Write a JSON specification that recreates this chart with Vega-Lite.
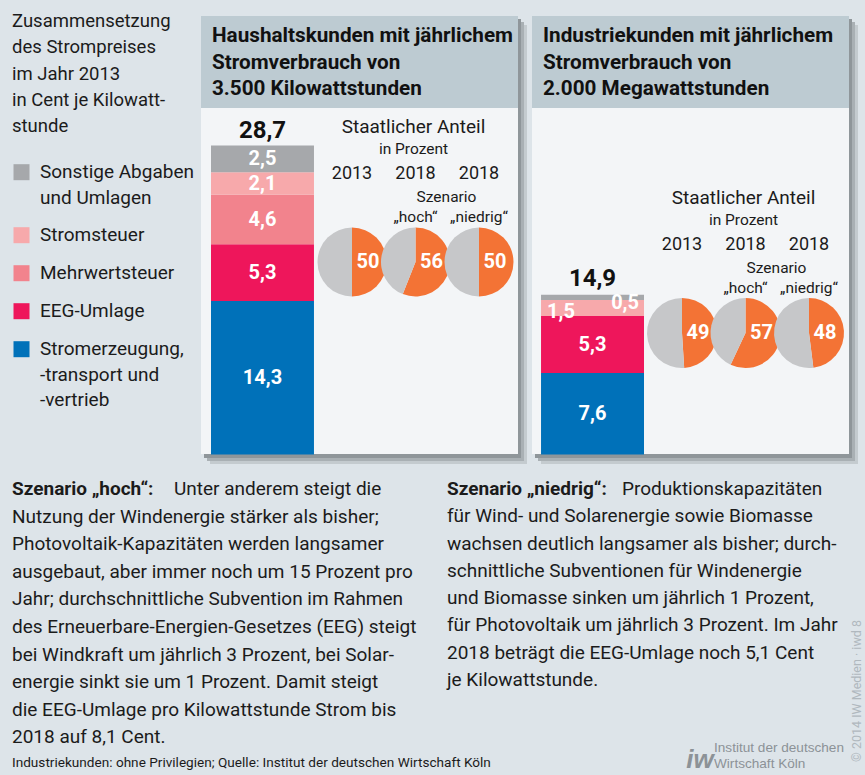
{
"$schema":"https://vega.github.io/schema/vega-lite/v6.json",
"width":865,"height":775,"padding":0,"autosize":{"type":"none"},
"background":"#dde4e9",
"config":{"view":{"stroke":null},"font":"Roboto","text":{"font":"Roboto","color":"#1b1b1b"},"style":{"guide-label":{"lineHeight":25.5}}},
"datasets":{
 "panels":[
  {"gruppe":"Haushalt","titel":["Haushaltskunden mit jährlichem","Stromverbrauch von","3.500 Kilowattstunden"]},
  {"gruppe":"Industrie","titel":["Industriekunden mit jährlichem","Stromverbrauch von","2.000 Megawattstunden"]}
 ],
 "komponenten":[
  {"gruppe":"Haushalt","komponente":"Stromerzeugung, -transport und -vertrieb","ebene":1,"wert":14.3,"label":"14,3"},
  {"gruppe":"Haushalt","komponente":"EEG-Umlage","ebene":2,"wert":5.3,"label":"5,3"},
  {"gruppe":"Haushalt","komponente":"Mehrwertsteuer","ebene":3,"wert":4.6,"label":"4,6"},
  {"gruppe":"Haushalt","komponente":"Stromsteuer","ebene":4,"wert":2.1,"label":"2,1"},
  {"gruppe":"Haushalt","komponente":"Sonstige Abgaben und Umlagen","ebene":5,"wert":2.5,"label":"2,5"},
  {"gruppe":"Industrie","komponente":"Stromerzeugung, -transport und -vertrieb","ebene":1,"wert":7.6,"label":"7,6"},
  {"gruppe":"Industrie","komponente":"EEG-Umlage","ebene":2,"wert":5.3,"label":"5,3"},
  {"gruppe":"Industrie","komponente":"Stromsteuer","ebene":4,"wert":1.5,"label":"1,5"},
  {"gruppe":"Industrie","komponente":"Sonstige Abgaben und Umlagen","ebene":5,"wert":0.5,"label":"0,5"}
 ],
 "summen":[
  {"gruppe":"Haushalt","summe":28.7,"label":"28,7"},
  {"gruppe":"Industrie","summe":14.9,"label":"14,9"}
 ],
 "anteil":[
  {"gruppe":"Haushalt","jahr":"2013","jahrText":"2013","szenario":"","teil":"Staat","prozent":50},
  {"gruppe":"Haushalt","jahr":"2013","jahrText":"2013","szenario":"","teil":"Rest","prozent":50},
  {"gruppe":"Haushalt","jahr":"2018 hoch","jahrText":"2018","szenario":"„hoch“","teil":"Staat","prozent":56},
  {"gruppe":"Haushalt","jahr":"2018 hoch","jahrText":"2018","szenario":"„hoch“","teil":"Rest","prozent":44},
  {"gruppe":"Haushalt","jahr":"2018 niedrig","jahrText":"2018","szenario":"„niedrig“","teil":"Staat","prozent":50},
  {"gruppe":"Haushalt","jahr":"2018 niedrig","jahrText":"2018","szenario":"„niedrig“","teil":"Rest","prozent":50},
  {"gruppe":"Industrie","jahr":"2013","jahrText":"2013","szenario":"","teil":"Staat","prozent":49},
  {"gruppe":"Industrie","jahr":"2013","jahrText":"2013","szenario":"","teil":"Rest","prozent":51},
  {"gruppe":"Industrie","jahr":"2018 hoch","jahrText":"2018","szenario":"„hoch“","teil":"Staat","prozent":57},
  {"gruppe":"Industrie","jahr":"2018 hoch","jahrText":"2018","szenario":"„hoch“","teil":"Rest","prozent":43},
  {"gruppe":"Industrie","jahr":"2018 niedrig","jahrText":"2018","szenario":"„niedrig“","teil":"Staat","prozent":48},
  {"gruppe":"Industrie","jahr":"2018 niedrig","jahrText":"2018","szenario":"„niedrig“","teil":"Rest","prozent":52}
 ]
},
"resolve":{"scale":{"x":"independent","y":"independent","color":"independent","theta":"independent"}},
"layer":[
 {
  "data":{"name":"panels"},
  "encoding":{"x":{"field":"gruppe","type":"nominal","axis":null,"scale":{"type":"band","domain":["Haushalt","Industrie"],"range":[201,849],"paddingInner":0.0423,"paddingOuter":0}}},
  "layer":[
   {"mark":{"type":"rect","y":25,"y2":464,"xOffset":9,"fill":"#c4cbcf"}},
   {"mark":{"type":"rect","y":22,"y2":461,"xOffset":6,"fill":"#a9b0b4"}},
   {"mark":{"type":"rect","y":19,"y2":458,"xOffset":3,"fill":"#8f969a"}},
   {"mark":{"type":"rect","y":16,"y2":454,"fill":"#f3f5f7"}},
   {"mark":{"type":"rect","y":16,"y2":108,"fill":"#bdcbd2"}},
   {"mark":{"type":"text","align":"left","baseline":"alphabetic","dx":11,"y":42,"fontSize":20.7,"fontWeight":"bold","lineHeight":26.5,"color":"#111111"},
    "encoding":{"x":{"field":"gruppe","type":"nominal","bandPosition":0,"axis":null,"scale":{"type":"band","domain":["Haushalt","Industrie"],"range":[201,849],"paddingInner":0.0423,"paddingOuter":0}},"text":{"field":"titel"}}}
  ]
 },
 {
  "encoding":{"x":{"field":"gruppe","type":"nominal","axis":null,"scale":{"type":"band","domain":["Haushalt","Industrie"],"range":[211,644],"paddingInner":0.688,"paddingOuter":0}}},
  "layer":[
   {"data":{"name":"komponenten"},
    "transform":[{"stack":"wert","groupby":["gruppe"],"sort":[{"field":"ebene","order":"ascending"}],"as":["y0","y1"]}],
    "mark":{"type":"bar"},
    "encoding":{
     "y":{"field":"y1","type":"quantitative","axis":null,"scale":{"domain":[0,42.36],"range":[454.5,0],"nice":false,"zero":false}},
     "y2":{"field":"y0"},
     "color":{"field":"komponente","type":"nominal",
      "scale":{"domain":["Sonstige Abgaben und Umlagen","Stromsteuer","Mehrwertsteuer","EEG-Umlage","Stromerzeugung, -transport und -vertrieb"],"range":["#a6a8ab","#f7a9ab","#f2838d","#ee165b","#0071b9"]},
      "legend":{"orient":"none","legendX":12,"legendY":12,"padding":0,
       "title":["Zusammensetzung","des Strompreises","im Jahr 2013","in Cent je Kilowatt-","stunde"],
       "titleFont":"Roboto","titleFontSize":18.5,"titleFontWeight":"normal","titleLineHeight":26.3,"titlePadding":27,"titleColor":"#1b1b1b","titleLimit":400,
       "labelFont":"Roboto","labelFontSize":19,"labelColor":"#1b1b1b","labelLimit":400,"labelOffset":9,
       "symbolType":"square","symbolSize":256,"symbolStrokeWidth":0,"symbolOpacity":1,"rowPadding":18,
       "labelExpr":"datum.label == 'Sonstige Abgaben und Umlagen' ? ['Sonstige Abgaben','und Umlagen'] : datum.label == 'Stromerzeugung, -transport und -vertrieb' ? ['Stromerzeugung,','-transport und','-vertrieb'] : datum.label"}
     }
    }
   },
   {"data":{"name":"komponenten"},
    "transform":[{"stack":"wert","groupby":["gruppe"],"sort":[{"field":"ebene","order":"ascending"}],"as":["y0","y1"]},{"calculate":"(datum.y0+datum.y1)/2","as":"mitte"},{"filter":"datum.gruppe == 'Haushalt' || datum.wert >= 2"}],
    "mark":{"type":"text","color":"white","fontWeight":"bold","fontSize":20,"baseline":"middle"},
    "encoding":{"y":{"field":"mitte","type":"quantitative","axis":null,"scale":{"domain":[0,42.36],"range":[454.5,0],"nice":false,"zero":false}},"text":{"field":"label"}}
   },
   {"data":{"name":"komponenten"},
    "transform":[{"stack":"wert","groupby":["gruppe"],"sort":[{"field":"ebene","order":"ascending"}],"as":["y0","y1"]},{"calculate":"(datum.y0+datum.y1)/2","as":"mitte"},{"filter":"datum.gruppe == 'Industrie' && datum.komponente == 'Stromsteuer'"}],
    "mark":{"type":"text","color":"white","fontWeight":"bold","fontSize":20,"baseline":"middle","align":"left","dx":6,"dy":4},
    "encoding":{"x":{"field":"gruppe","type":"nominal","bandPosition":0,"axis":null,"scale":{"type":"band","domain":["Haushalt","Industrie"],"range":[211,644],"paddingInner":0.688,"paddingOuter":0}},
     "y":{"field":"mitte","type":"quantitative","axis":null,"scale":{"domain":[0,42.36],"range":[454.5,0],"nice":false,"zero":false}},"text":{"field":"label"}}
   },
   {"data":{"name":"komponenten"},
    "transform":[{"stack":"wert","groupby":["gruppe"],"sort":[{"field":"ebene","order":"ascending"}],"as":["y0","y1"]},{"calculate":"(datum.y0+datum.y1)/2","as":"mitte"},{"filter":"datum.gruppe == 'Industrie' && datum.komponente == 'Sonstige Abgaben und Umlagen'"}],
    "mark":{"type":"text","color":"white","fontWeight":"bold","fontSize":20,"baseline":"middle","align":"right","dx":-5,"dy":5.5},
    "encoding":{"x":{"field":"gruppe","type":"nominal","bandPosition":1,"axis":null,"scale":{"type":"band","domain":["Haushalt","Industrie"],"range":[211,644],"paddingInner":0.688,"paddingOuter":0}},
     "y":{"field":"mitte","type":"quantitative","axis":null,"scale":{"domain":[0,42.36],"range":[454.5,0],"nice":false,"zero":false}},"text":{"field":"label"}}
   },
   {"data":{"name":"summen"},
    "mark":{"type":"text","fontWeight":"bold","fontSize":24,"baseline":"alphabetic","dy":-9,"color":"#111111"},
    "encoding":{"y":{"field":"summe","type":"quantitative","axis":null,"scale":{"domain":[0,42.36],"range":[454.5,0],"nice":false,"zero":false}},"text":{"field":"label"}}
   }
  ]
 },
 {
  "data":{"name":"anteil"},
  "transform":[{"filter":"datum.gruppe == 'Haushalt'"},{"stack":"prozent","groupby":["jahr"],"sort":[{"field":"teil","order":"descending"}],"as":["t0","t1"]}],
  "encoding":{
   "x":{"field":"jahr","type":"ordinal","axis":null,"scale":{"type":"point","domain":["2013","2018 hoch","2018 niedrig"],"range":[352,479],"padding":0}},
   "y":{"field":"gruppe","type":"nominal","axis":null,"scale":{"type":"point","domain":["Haushalt","Industrie"],"range":[262,333],"padding":0}}
  },
  "layer":[
   {"mark":{"type":"arc","radius":34.5},"encoding":{"theta":{"field":"t0","type":"quantitative","scale":{"domain":[0,100]}},"theta2":{"field":"t1"},"color":{"field":"teil","type":"nominal","scale":{"domain":["Staat","Rest"],"range":["#f37335","#c6c7c9"]},"legend":null}}},
   {"transform":[{"filter":"datum.teil == 'Staat'"}],"mark":{"type":"text","dx":16,"color":"white","fontWeight":"bold","fontSize":20,"baseline":"middle"},"encoding":{"text":{"field":"prozent","type":"quantitative"}}},
   {"transform":[{"filter":"datum.teil == 'Staat'"}],"mark":{"type":"text","dy":-88,"fontSize":18,"baseline":"middle"},"encoding":{"text":{"field":"jahrText"}}},
   {"transform":[{"filter":"datum.teil == 'Staat' && datum.szenario != ''"}],"mark":{"type":"text","dy":-45.5,"fontSize":15.5,"baseline":"middle"},"encoding":{"text":{"field":"szenario"}}},
   {"transform":[{"filter":"datum.teil == 'Staat' && datum.jahr == '2018 hoch'"}],"mark":{"type":"text","dx":-2,"dy":-135.5,"fontSize":19,"baseline":"middle","text":"Staatlicher Anteil"}},
   {"transform":[{"filter":"datum.teil == 'Staat' && datum.jahr == '2018 hoch'"}],"mark":{"type":"text","dx":-2,"dy":-113.5,"fontSize":15.5,"baseline":"middle","text":"in Prozent"}},
   {"transform":[{"filter":"datum.teil == 'Staat' && datum.jahr == '2018 hoch'"}],"mark":{"type":"text","dx":31,"dy":-65.5,"fontSize":15.5,"baseline":"middle","text":"Szenario"}}
  ]
 },
 {
  "data":{"name":"anteil"},
  "transform":[{"filter":"datum.gruppe == 'Industrie'"},{"stack":"prozent","groupby":["jahr"],"sort":[{"field":"teil","order":"descending"}],"as":["t0","t1"]}],
  "encoding":{
   "x":{"field":"jahr","type":"ordinal","axis":null,"scale":{"type":"point","domain":["2013","2018 hoch","2018 niedrig"],"range":[682,809],"padding":0}},
   "y":{"field":"gruppe","type":"nominal","axis":null,"scale":{"type":"point","domain":["Haushalt","Industrie"],"range":[262,333],"padding":0}}
  },
  "layer":[
   {"mark":{"type":"arc","radius":35},"encoding":{"theta":{"field":"t0","type":"quantitative","scale":{"domain":[0,100]}},"theta2":{"field":"t1"},"color":{"field":"teil","type":"nominal","scale":{"domain":["Staat","Rest"],"range":["#f37335","#c6c7c9"]},"legend":null}}},
   {"transform":[{"filter":"datum.teil == 'Staat'"}],"mark":{"type":"text","dx":16,"color":"white","fontWeight":"bold","fontSize":20,"baseline":"middle"},"encoding":{"text":{"field":"prozent","type":"quantitative"}}},
   {"transform":[{"filter":"datum.teil == 'Staat'"}],"mark":{"type":"text","dy":-88,"fontSize":18,"baseline":"middle"},"encoding":{"text":{"field":"jahrText"}}},
   {"transform":[{"filter":"datum.teil == 'Staat' && datum.szenario != ''"}],"mark":{"type":"text","dy":-45.5,"fontSize":15.5,"baseline":"middle"},"encoding":{"text":{"field":"szenario"}}},
   {"transform":[{"filter":"datum.teil == 'Staat' && datum.jahr == '2018 hoch'"}],"mark":{"type":"text","dx":-2,"dy":-135.5,"fontSize":19,"baseline":"middle","text":"Staatlicher Anteil"}},
   {"transform":[{"filter":"datum.teil == 'Staat' && datum.jahr == '2018 hoch'"}],"mark":{"type":"text","dx":-2,"dy":-113.5,"fontSize":15.5,"baseline":"middle","text":"in Prozent"}},
   {"transform":[{"filter":"datum.teil == 'Staat' && datum.jahr == '2018 hoch'"}],"mark":{"type":"text","dx":31,"dy":-65.5,"fontSize":15.5,"baseline":"middle","text":"Szenario"}}
  ]
 },
 {"data":{"values":[{}]},"mark":{"type":"rule","x":320,"x2":512,"y":301,"y2":301,"stroke":"#a9b8c1","strokeWidth":3},"encoding":{}},
 {"data":{"values":[{}]},"mark":{"type":"rule","x":652,"x2":842,"y":372,"y2":372,"stroke":"#a9b8c1","strokeWidth":3},"encoding":{}},
 {"data":{"values":[{}]},"mark":{"type":"text","x":12,"y":495,"align":"left","baseline":"alphabetic","fontSize":19,"fontWeight":"bold","text":"Szenario „hoch“:"}},
 {"data":{"values":[{}]},"mark":{"type":"text","x":174,"y":495,"align":"left","baseline":"alphabetic","fontSize":19,"text":"Unter anderem steigt die"}},
 {"data":{"values":[{}]},"mark":{"type":"text","x":12,"y":522.6,"align":"left","baseline":"alphabetic","fontSize":19,"lineHeight":27.6,
  "text":["Nutzung der Windenergie stärker als bisher;","Photovoltaik-Kapazitäten werden langsamer","ausgebaut, aber immer noch um 15 Prozent pro","Jahr; durchschnittliche Subvention im Rahmen","des Erneuerbare-Energien-Gesetzes (EEG) steigt","bei Windkraft um jährlich 3 Prozent, bei Solar-","energie sinkt sie um 1 Prozent. Damit steigt","die EEG-Umlage pro Kilowattstunde Strom bis","2018 auf 8,1 Cent."]}},
 {"data":{"values":[{}]},"mark":{"type":"text","x":447,"y":495,"align":"left","baseline":"alphabetic","fontSize":19,"fontWeight":"bold","text":"Szenario „niedrig“:"}},
 {"data":{"values":[{}]},"mark":{"type":"text","x":622,"y":495,"align":"left","baseline":"alphabetic","fontSize":19,"text":"Produktionskapazitäten"}},
 {"data":{"values":[{}]},"mark":{"type":"text","x":447,"y":522.3,"align":"left","baseline":"alphabetic","fontSize":19,"lineHeight":27.3,
  "text":["für Wind- und Solarenergie sowie Biomasse","wachsen deutlich langsamer als bisher; durch-","schnittliche Subventionen für Windenergie","und Biomasse sinken um jährlich 1 Prozent,","für Photovoltaik um jährlich 3 Prozent. Im Jahr","2018 beträgt die EEG-Umlage noch 5,1 Cent","je Kilowattstunde."]}},
 {"data":{"values":[{}]},"mark":{"type":"text","x":12,"y":767,"align":"left","baseline":"alphabetic","fontSize":13.6,"text":"Industriekunden: ohne Privilegien; Quelle: Institut der deutschen Wirtschaft Köln"}},
 {"data":{"values":[{}]},"mark":{"type":"text","x":700,"y":768,"align":"center","baseline":"alphabetic","fontSize":26,"fontWeight":"bold","fontStyle":"italic","font":"Liberation Sans","color":"#8c9297","text":"iw"}},
 {"data":{"values":[{}]},"mark":{"type":"text","x":714,"y":752,"align":"left","baseline":"alphabetic","fontSize":13.6,"font":"Liberation Sans","color":"#8c9297","lineHeight":16,"text":["Institut der deutschen","Wirtschaft Köln"]}},
 {"data":{"values":[{}]},"mark":{"type":"text","x":857,"y":691,"angle":270,"align":"center","baseline":"middle","fontSize":12.5,"color":"#b0b8be","text":"© 2014 IW Medien · iwd 8"}}
]
}
